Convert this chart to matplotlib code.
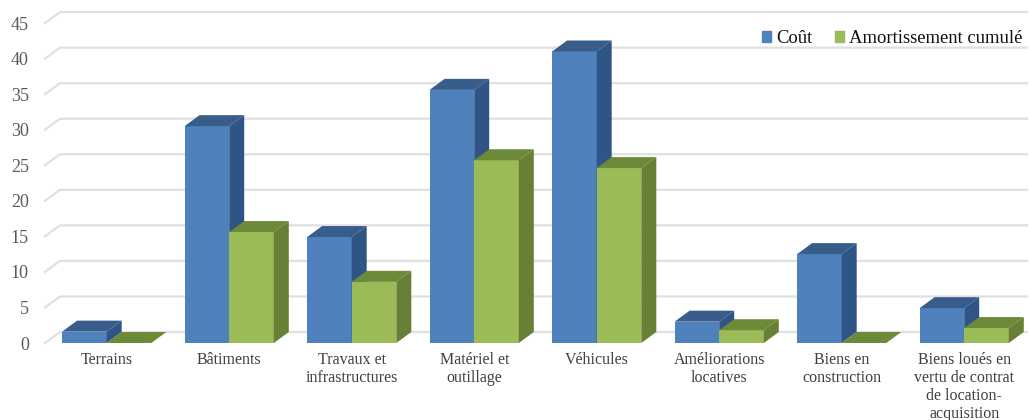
import matplotlib
matplotlib.use('Agg')
import matplotlib.pyplot as plt
from matplotlib.patches import Polygon, Patch

categories = ['Terrains', 'Bâtiments', 'Travaux et\ninfrastructures', 'Matériel et\noutillage',
              'Véhicules', 'Améliorations\nlocatives', 'Biens en\nconstruction',
              'Biens loués en\nvertu de contrat\nde location-\nacquisition']
cout = [1.6, 30.5, 14.9, 35.6, 41, 3, 12.5, 4.9]
amortissement = [0, 15.6, 8.6, 25.7, 24.6, 1.8, 0, 2.1]
yticks = [0, 5, 10, 15, 20, 25, 30, 35, 40, 45]

plt.rcParams['font.family'] = ['Liberation Serif', 'DejaVu Serif']

W, H = 1029, 420
fig = plt.figure(figsize=(W / 100, H / 100), dpi=100)

# plot area in pixels, y=0 sits at 343 and one unit is about 7.11 px
px_unit = 122.5
py_unit = 7.11
x0 = 106.7
left, right = 45, 1027
ax = fig.add_axes([left / W, (H - 343) / H, (right - left) / W, 331 / H])
ax.set_xlim((left - x0) / px_unit, (right - x0) / px_unit)
ax.set_ylim(0, 331 / py_unit)

bar_w = 44.6 / px_unit
depth_x = 15 / px_unit
depth_y = 11 / py_unit

xmin, xmax = ax.get_xlim()
for v in yticks:
    ax.plot([xmin, xmin + depth_x, xmax], [v, v + depth_y, v + depth_y],
            color='#e0e0e0', lw=1.6, zorder=1, clip_on=False, solid_joinstyle='round')


def bar3d(x, h, front, top, side):
    ax.bar(x, h, width=bar_w, align='edge', color=front, lw=0, zorder=3)
    ax.add_patch(Polygon([(x, h), (x + depth_x, h + depth_y), (x + bar_w + depth_x, h + depth_y),
                          (x + bar_w, h)], closed=True, fc=top, ec='none', zorder=3))
    ax.add_patch(Polygon([(x + bar_w, 0), (x + bar_w + depth_x, depth_y),
                          (x + bar_w + depth_x, h + depth_y), (x + bar_w, h)],
                         closed=True, fc=side, ec='none', zorder=3))


# painter's order, left to right and blue before green
for i in range(len(categories)):
    bar3d(i - bar_w, cout[i], '#4f81bd', '#385d8a', '#2f5586')
    bar3d(i, amortissement[i], '#9bbb59', '#6d8a38', '#687f36')

for s in ax.spines.values():
    s.set_visible(False)
ax.patch.set_alpha(0)
ax.set_xticks(range(len(categories)))
ax.set_xticklabels(categories, fontsize=11.5, color='#404040', linespacing=1.17)
ax.set_yticks(yticks)
ax.set_yticklabels(yticks, fontsize=13, color='#595959')
ax.tick_params(axis='both', length=0)
ax.tick_params(axis='x', pad=6.3)
ax.tick_params(axis='y', pad=11.7)

handles = [Patch(color='#4f81bd', label='Coût'), Patch(color='#9bbb59', label='Amortissement cumulé')]
ax.legend(handles=handles, loc='upper right', bbox_to_anchor=(0.995, 0.945), frameon=False, ncol=2,
          fontsize=13.4, handlelength=0.48, handleheight=0.48, handletextpad=0.25,
          columnspacing=1.24, borderpad=0, borderaxespad=0, labelcolor='#111111')

fig.savefig('out.png', dpi=100)
